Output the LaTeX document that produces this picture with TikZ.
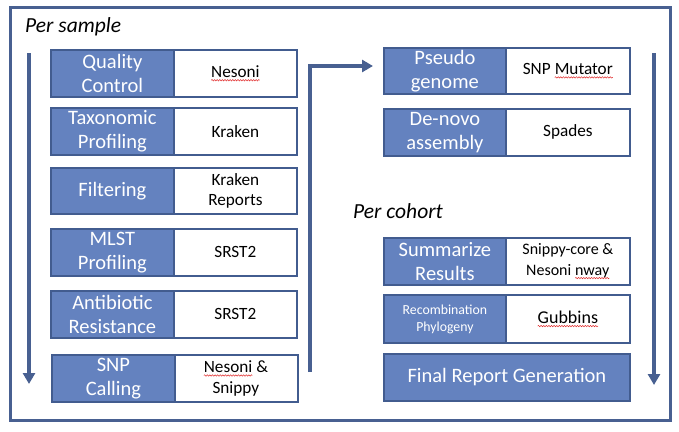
\documentclass[tikz,border=0pt]{standalone}
\usepackage{fontspec}
\setmainfont{Carlito}
\usetikzlibrary{arrows.meta,decorations.pathmorphing}
\definecolor{frame}{RGB}{72,96,145}
\definecolor{bfill}{RGB}{100,130,191}
\definecolor{bline}{RGB}{66,92,143}
\definecolor{squig}{RGB}{225,45,45}
\newcommand\spellerr[1]{\tikz[baseline=(w.base)]{\node[inner sep=0pt,outer sep=0pt,draw=none,fill=none,anchor=base,minimum width=0pt,minimum height=0pt] (w) {#1};
  \draw[draw=squig,line width=0.5pt,decorate,decoration={snake,amplitude=0.7pt,segment length=2.6pt}] ([yshift=-2.8pt]w.base west) -- ([yshift=-2.8pt]w.base east);}}
\begin{document}
\begin{tikzpicture}[x=1pt,y=-1pt,
  bluebox/.style={draw=bline, line width=1.8pt, fill=bfill, text=white,
    font=\fontsize{20.5}{23.5}\selectfont, align=center, inner sep=0pt, anchor=north west},
  toolbox/.style={draw=bline, line width=1.8pt, fill=white, text=black,
    font=\fontsize{17.2}{20.5}\selectfont, align=center, inner sep=0pt, anchor=north west},
  flow/.style={draw=frame, line width=3.6pt, -{Triangle[length=11pt,width=12pt]}},
  title/.style={font=\fontsize{21.5}{24}\selectfont\itshape, anchor=base west, inner sep=0pt}]
\useasboundingbox (0,0) rectangle (679,431);
\draw[frame, line width=3pt] (10,7) rectangle (670,420);
\node[title] (ps) at (25,32) {Per sample};
\node[title] (pc) at (353,218) {Per cohort};
% left column
\node[toolbox, minimum width=123pt, minimum height=47pt] (qcT) at (173,49) {\spellerr{Nesoni}};
\node[bluebox, minimum width=123pt, minimum height=47pt] (qc) at (50,49) {Quality\\Control};
\node[toolbox, minimum width=123pt, minimum height=47pt] (taT) at (173,107) {Kraken};
\node[bluebox, minimum width=123pt, minimum height=47pt] (ta) at (50,107) {Taxonomic\\Profiling};
\node[toolbox, minimum width=123pt, minimum height=46pt] (fiT) at (173,167) {Kraken\\Reports};
\node[bluebox, minimum width=123pt, minimum height=46pt] (fi) at (50,167) {Filtering};
\node[toolbox, minimum width=123pt, minimum height=47pt] (mlT) at (173,228) {SRST2};
\node[bluebox, minimum width=123pt, minimum height=47pt] (ml) at (50,228) {MLST\\Profiling};
\node[toolbox, minimum width=123pt, minimum height=47pt] (abT) at (173,290) {SRST2};
\node[bluebox, minimum width=123pt, minimum height=47pt] (ab) at (50,290) {Antibiotic\\Resistance};
\node[toolbox, minimum width=124pt, minimum height=47pt] (snT) at (173,354) {\spellerr{Nesoni} \&\\Snippy};
\node[bluebox, minimum width=123pt, minimum height=47pt] (sn) at (51,354) {SNP\\Calling};
% right column
\node[toolbox, minimum width=124pt, minimum height=46pt] (pgT) at (505,47) {SNP \spellerr{Mutator}};
\node[bluebox, minimum width=122pt, minimum height=46pt] (pg) at (383,47) {Pseudo\\genome};
\node[toolbox, minimum width=124pt, minimum height=47pt] (dnT) at (505,108) {Spades};
\node[bluebox, minimum width=122pt, minimum height=47pt] (dn) at (383,108) {De-novo\\assembly};
\node[toolbox, minimum width=124pt, minimum height=47pt, font=\fontsize{16}{20.5}\selectfont] (srT) at (505,237) {Snippy-core \&\\Nesoni \spellerr{nway}};
\node[bluebox, minimum width=122pt, minimum height=47pt] (sr) at (383,237) {Summarize\\Results};
\node[toolbox, minimum width=124pt, minimum height=48pt, font=\fontsize{18}{20}\selectfont] (rpT) at (505,294) {\spellerr{Gubbins}};
\node[bluebox, minimum width=122pt, minimum height=48pt, font=\fontsize{13.8}{17}\selectfont] (rp) at (383,294) {Recombination\\Phylogeny};
\node[bluebox, minimum width=246pt, minimum height=47pt] (fr) at (383,353) {Final Report Generation};
% flow arrows
\coordinate (lA) at (29,53);
\coordinate (lB) at (29,384);
\coordinate (rA) at (654,53);
\coordinate (rB) at (654,385);
\coordinate (cA) at (310,372);
\coordinate (cE) at (373,66);
\draw[flow] (lA) -- (lB);
\draw[flow] (rA) -- (rB);
\draw[flow] (cA) |- (cE);
\end{tikzpicture}
\end{document}
